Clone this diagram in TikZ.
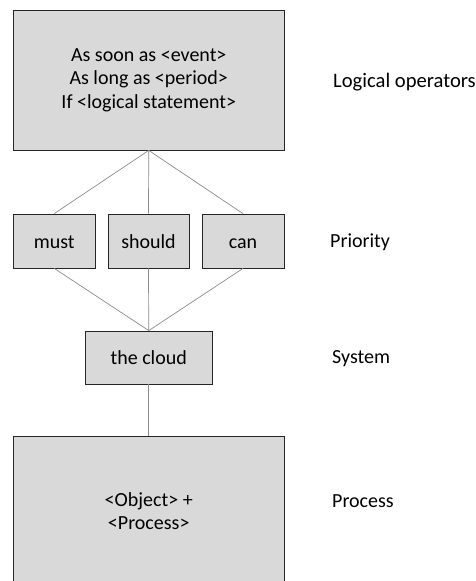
\documentclass[tikz,border=0pt]{standalone}
\usepackage{fontspec}
\setmainfont{Carlito}
\usepackage{tikz}

\begin{document}
\begin{tikzpicture}[x=1pt,y=-1pt,
            every node/.style={font=\fontsize{20}{23.5}\selectfont},
            box/.style={draw=black!85,line width=0.8pt,fill=black!15,
                inner sep=0pt,align=center},
            word/.style={box,text height=15.5pt,text depth=1pt},
            link/.style={draw=black!45,line width=0.7pt},
            side/.style={anchor=base west,inner sep=0pt}]
            \clip (0,0) rectangle (475,581);
            \fill[white] (0,0) rectangle (475,581);

            \node[box,minimum width=270.5pt,minimum height=140pt] (ops) at (148.75,80)
                {As soon as <event>\\As long as <period>\\If <logical statement>};
            \node[word,minimum width=81.5pt,minimum height=54pt] (must) at (54.25,241) {must};
            \node[word,minimum width=81pt,minimum height=54pt] (should) at (148.5,241) {should};
            \node[word,minimum width=82pt,minimum height=54pt] (can) at (243,241) {can};
            \node[word,minimum width=126.5pt,minimum height=53pt] (cloud) at (148.75,357.5) {the cloud};
            \node[box,minimum width=270.5pt,minimum height=150pt] (proc) at (148.75,511)
                {<Object> +\\<Process>};

            % labels on the right
            \node[side,font=\fontsize{20.6}{24}\selectfont] (lops) at (333,87) {Logical operators};
            \node[side] (lprio) at (330,247) {Priority};
            \node[side] (lsys) at (332,363) {System};
            \node[side] (lproc) at (332,507) {Process};

            \foreach \p in {must,should,can} {
                \draw[link] (ops.south) -- (\p.north);
                \draw[link] (\p.south) -- (cloud.north);
            }
            \draw[link] (cloud.south) -- (proc.north);
        \end{tikzpicture}
\end{document}
